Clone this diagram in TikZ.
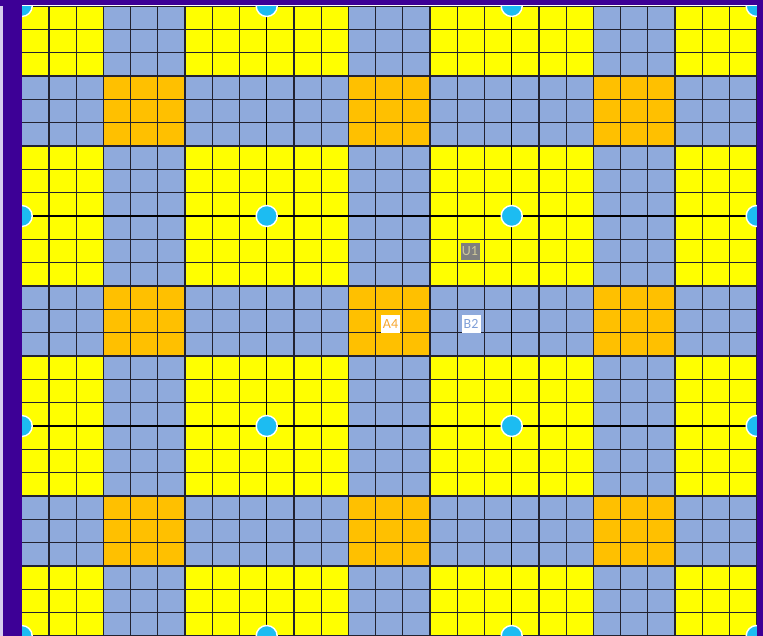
\documentclass[tikz,border=0pt]{standalone}
\usepackage{fontspec}
\setmainfont{Carlito}
\definecolor{cyel}{HTML}{FFFF00}
\definecolor{cblue}{HTML}{8FAADC}
\definecolor{corange}{HTML}{FFC000}
\definecolor{cpurple}{HTML}{3D0096}
\definecolor{clav}{HTML}{D9CCEE}
\definecolor{cdot}{HTML}{1CBCF2}
\definecolor{cgrid}{HTML}{222230}
\definecolor{cgray}{HTML}{7F7F7F}
\definecolor{cutext}{HTML}{CFC99A}
\definecolor{catext}{HTML}{F7A830}
\definecolor{cbtext}{HTML}{7F9FD8}
\tikzset{
  gridline/.style={draw=cgrid, line width=1.2pt},
  majorline/.style={draw=black, line width=1.5pt},
  dotstyle/.style={fill=cdot, draw=white, line width=1.4pt},
  tag/.style={inner sep=1pt, minimum width=19pt, minimum height=17pt, font=\fontsize{14}{14}\selectfont},
}
\begin{document}
\begin{tikzpicture}[x=1pt,y=-1pt]
\useasboundingbox (0,0) rectangle (763,636);
\def\gx{21.7}
\def\gy{6}
\def\cw{27.2222}
\def\ch{23.3333}
% base
\fill[cyel] (\gx,\gy) rectangle (756.7,640);
\foreach \a in {3,12,21}{
  \fill[cblue] ({\gx+\a*\cw},\gy) rectangle ({\gx+(\a+3)*\cw},640);
  \fill[cblue] (\gx,{\gy+\a*\ch}) rectangle (756.7,{\gy+(\a+3)*\ch});
}
\foreach \a in {3,12,21}{
  \foreach \b in {3,12,21}{
    \fill[corange] ({\gx+\a*\cw},{\gy+\b*\ch}) rectangle ({\gx+(\a+3)*\cw},{\gy+(\b+3)*\ch});
  }
}
% grid
\foreach \i in {0,...,27}{
  \draw[gridline] ({\gx+\i*\cw},\gy) -- ({\gx+\i*\cw},640);
  \draw[gridline] (\gx,{\gy+\i*\ch}) -- (756.7,{\gy+\i*\ch});
}
\foreach \i in {9,18}{
  \draw[majorline] ({\gx+\i*\cw},\gy) -- ({\gx+\i*\cw},640);
  \draw[majorline] (\gx,{\gy+\i*\ch}) -- (756.7,{\gy+\i*\ch});
}
% dots
\foreach \i in {0,9,18,27}{
  \foreach \j in {0,9,18,27}{
    \path[dotstyle] ({\gx+\i*\cw},{\gy+\j*\ch}) circle (10.5);
  }
}
% labels
\node[tag, fill=cgray, text=cutext] (u1) at (470,251.5) {U1};
\node[tag, fill=white, text=catext] (a4) at (390.5,324) {A4};
\node[tag, fill=white, text=cbtext] (b2) at (471,324) {B2};
% frame
\draw[white, line width=1pt] (\gx,\gy) -- (756.7,\gy);
\fill[cpurple] (0,0) rectangle (\gx,636);
\fill[cpurple] (0,0) rectangle (763,5.5);
\fill[cpurple] (756.7,0) rectangle (763,636);
\fill[clav] (0,6) rectangle (2.5,636);
\end{tikzpicture}
\end{document}
